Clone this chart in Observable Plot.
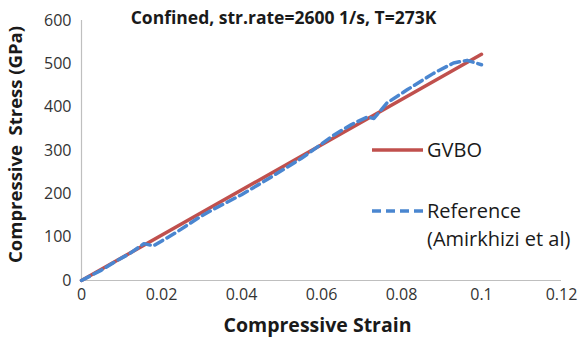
<!DOCTYPE html>
<html>
<head>
<meta charset="utf-8">
<script src="https://cdn.jsdelivr.net/npm/d3@7"></script>
<script src="https://cdn.jsdelivr.net/npm/@observablehq/plot@0.6"></script>
<style>
  html, body { margin: 0; padding: 0; background: #fff; }
  #wrap { position: relative; width: 578px; height: 339px; font-family: "Open Sans", sans-serif; }
  .leg { position: absolute; left: 372px; font-size: 20px; color: #1a1a1a; }
  .leg svg { position: absolute; left: 0; }
  .leg span { position: absolute; left: 55px; white-space: nowrap; line-height: 20px; }
</style>
</head>
<body>
<div id="wrap"></div>
<script>
const title = "Confined, str.rate=2600 1/s, T=273K";
const xLabel = "Compressive Strain";
const yLabel = "Compressive  Stress (GPa)";
const xTicks = [0, 0.02, 0.04, 0.06, 0.08, 0.1, 0.12];
const yTicks = [0, 100, 200, 300, 400, 500, 600];

const gvboStrain = [0, 0.1];
const gvboStress = [0, 522];

const refStrain = [0, 0.005, 0.0085, 0.012, 0.0156, 0.018, 0.0235, 0.0298, 0.0327, 0.04, 0.0464, 0.055, 0.063, 0.0675, 0.0714, 0.0731, 0.0764, 0.0814, 0.088, 0.093, 0.0964, 0.1];
const refStress = [0, 24, 44, 62, 85, 80, 110, 148, 163, 198, 233, 282, 335, 360, 377, 374, 410, 440, 478, 502, 508, 498];

const gvbo = gvboStrain.map((x, i) => ({x, y: gvboStress[i]}));
const ref = refStrain.map((x, i) => ({x, y: refStress[i]}));

const plot = Plot.plot({
  width: 578,
  height: 339,
  marginLeft: 81,
  marginRight: 17,
  marginTop: 20,
  marginBottom: 59,
  style: {fontFamily: "Open Sans, sans-serif", fontSize: "16px", color: "#333", background: "#fff"},
  x: {domain: [0, 0.12], ticks: xTicks, tickSize: 0, tickPadding: 8, tickFormat: d => String(d), label: null},
  y: {domain: [0, 600], ticks: yTicks, tickSize: 0, tickPadding: 10, label: null},
  marks: [
    Plot.ruleY([0], {stroke: "#bfbfbf", strokeWidth: 1.2}),
    Plot.ruleX([0], {stroke: "#bfbfbf", strokeWidth: 1.2}),
    Plot.line(gvbo, {x: "x", y: "y", stroke: "#c0504d", strokeWidth: 3.5}),
    Plot.line(ref, {x: "x", y: "y", stroke: "#4a86d0", strokeWidth: 3.5, strokeDasharray: "9,5"}),
    Plot.text([title], {frameAnchor: "top", dy: -9, dx: -38, fontSize: 17.5, fontWeight: "bold", fill: "#1a1a1a"}),
    Plot.text([xLabel], {frameAnchor: "bottom", dy: 51, dx: -4, fontSize: 19.5, fontWeight: "bold", fill: "#1a1a1a"}),
    Plot.text([yLabel], {frameAnchor: "left", textAnchor: "middle", dx: -65, dy: -6, rotate: -90, fontSize: 18.5, fontWeight: "bold", fill: "#1a1a1a"})
  ]
});
const wrap = document.getElementById("wrap");
wrap.appendChild(plot);

const legendItems = [
  {label: ["GVBO"], color: "#c0504d", dash: null, top: 140},
  {label: ["Reference", "(Amirkhizi et al)"], color: "#4a86d0", dash: "9,5", top: 201}
];
for (const it of legendItems) {
  const d = document.createElement("div");
  d.className = "leg";
  d.style.top = it.top + "px";
  d.innerHTML = `<svg width="52" height="20"><line x1="0" x2="51" y1="10" y2="10" stroke="${it.color}" stroke-width="3.5" ${it.dash ? `stroke-dasharray="${it.dash}"` : ""}/></svg>` +
    it.label.map((t, i) => `<span style="top:${i * 28}px">${t}</span>`).join("");
  wrap.appendChild(d);
}
</script>
</body>
</html>
